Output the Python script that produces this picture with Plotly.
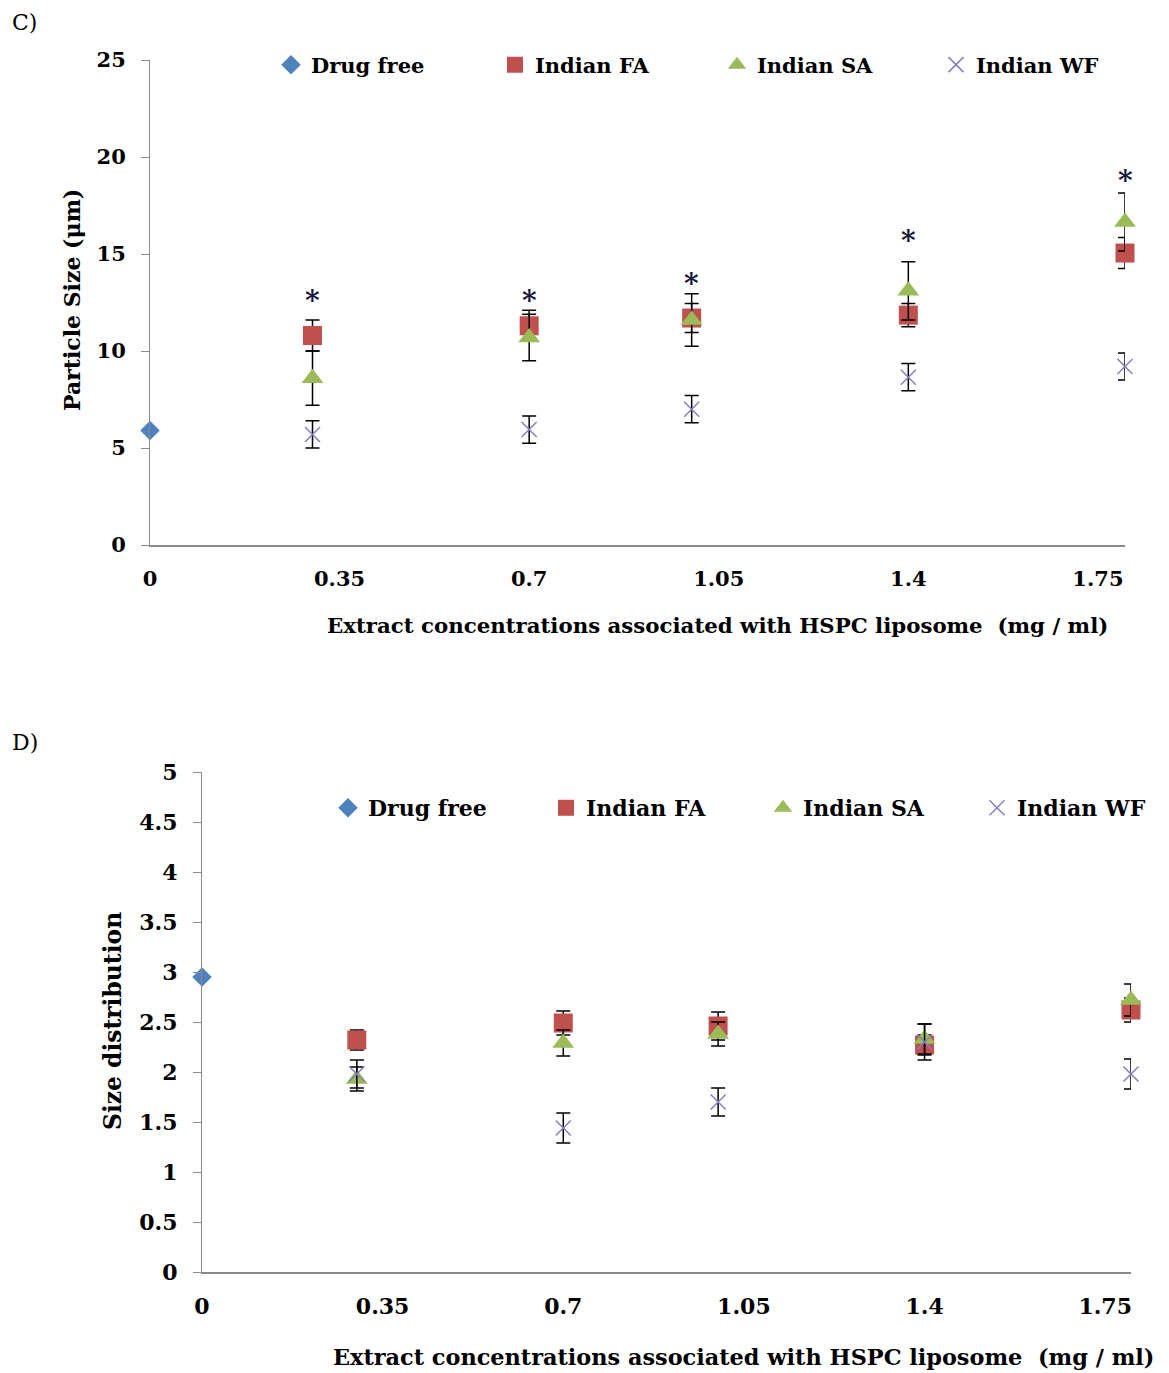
import plotly.graph_objects as go

# ---------------- data ----------------
series_names = ["Drug free", "Indian FA", "Indian SA", "Indian WF"]
x_control = [0]
x_conc = [0.3, 0.7, 1.0, 1.4, 1.8]
x_tick_vals = [0, 0.35, 0.7, 1.05, 1.4, 1.75]
x_tick_text = ["0", "0.35", "0.7", "1.05", "1.4", "1.75"]

# Panel C: particle size (um)
c_drug_free = [5.9]
c_fa = [10.8, 11.3, 11.7, 11.85, 15.05]
c_fa_err = [0.8, 0.8, 0.75, 0.6, 0.8]
c_sa = [8.6, 10.7, 11.6, 13.1, 16.65]
c_sa_err = [1.4, 1.2, 1.35, 1.5, 1.5]
c_wf = [5.7, 5.95, 7.0, 8.65, 9.2]
c_wf_err = [0.7, 0.7, 0.7, 0.7, 0.7]
c_star_y = [12.8, 12.8, 13.7, 15.9, 19.0]

# Panel D: size distribution
d_drug_free = [2.95]
d_fa = [2.32, 2.49, 2.46, 2.27, 2.62]
d_fa_err = [0.1, 0.12, 0.14, 0.1, 0.12]
d_sa = [1.93, 2.29, 2.38, 2.33, 2.72]
d_sa_err = [0.12, 0.13, 0.12, 0.15, 0.16]
d_wf = [1.98, 1.44, 1.70, 2.30, 1.98]
d_wf_err = [0.14, 0.15, 0.14, 0.18, 0.15]

# ---------------- style ----------------
W, H = 1169, 1373
BLUE = "#4F81BD"
RED = "#C0504D"
GREEN = "#9BBB59"
PURPLE = "#8a7cc0"
FONT = "DejaVu Serif"
AXIS_GREY = "#8a8a8a"


def px_x(p):
    return p / W


def px_y(p):
    return 1 - p / H


fig = go.Figure()


def add_panel(xa, ya, legends, df, fa, fa_err, sa, sa_err, wf, wf_err):
    err_style = dict(type="data", visible=True, color="black", thickness=1.5, width=7)
    fig.add_trace(go.Scatter(
        x=x_control, y=df, mode="markers", name=series_names[0],
        marker=dict(symbol="diamond", size=15, color=BLUE),
        xaxis=xa, yaxis=ya, legend=legends[0], cliponaxis=False))
    fig.add_trace(go.Scatter(
        x=x_conc, y=fa, mode="markers", name=series_names[1],
        marker=dict(symbol="square", size=19, color=RED),
        error_y=dict(array=fa_err, **err_style),
        xaxis=xa, yaxis=ya, legend=legends[1], cliponaxis=False))
    fig.add_trace(go.Scatter(
        x=x_conc, y=sa, mode="markers", name=series_names[2],
        marker=dict(symbol="triangle-up", size=19, color=GREEN),
        error_y=dict(array=sa_err, **err_style),
        xaxis=xa, yaxis=ya, legend=legends[2], cliponaxis=False))
    fig.add_trace(go.Scatter(
        x=x_conc, y=wf, mode="markers", name=series_names[3],
        marker=dict(symbol="x-thin", size=15, color=PURPLE,
                    line=dict(width=1.5, color=PURPLE)),
        error_y=dict(array=wf_err, **err_style),
        xaxis=xa, yaxis=ya, legend=legends[3], cliponaxis=False))


top_legends = ["legend", "legend2", "legend3", "legend4"]
bot_legends = ["legend5", "legend6", "legend7", "legend8"]
add_panel("x", "y", top_legends, c_drug_free, c_fa, c_fa_err, c_sa, c_sa_err, c_wf, c_wf_err)
add_panel("x2", "y2", bot_legends, d_drug_free, d_fa, d_fa_err, d_sa, d_sa_err, d_wf, d_wf_err)


def tick_font(size):
    return dict(family=FONT, size=size, color="black", weight="bold")


def xaxis_common(fs):
    return dict(
        range=[0, 1.8], tickmode="array", tickvals=x_tick_vals, ticktext=x_tick_text,
        showline=True, linecolor=AXIS_GREY, linewidth=1.5, ticks="", showgrid=False,
        zeroline=False, tickfont=tick_font(fs), ticklabelstandoff=14, automargin=False,
    )


def yaxis_common(fs):
    return dict(
        showline=True, linecolor=AXIS_GREY, linewidth=1, ticks="outside", ticklen=8,
        tickcolor=AXIS_GREY, showgrid=False, zeroline=False, tickfont=tick_font(fs),
        ticklabelstandoff=11, automargin=False,
    )


def legend_box(left_px, center_y_px, fs):
    return dict(x=px_x(left_px), y=px_y(center_y_px), xanchor="left", yanchor="middle",
                orientation="h",
                font=dict(family=FONT, size=fs, color="black", weight="bold"),
                bgcolor="rgba(0,0,0,0)", borderwidth=0, itemwidth=30)


annotations = []
# asterisks for panel C
for xv, yv in zip(x_conc, c_star_y):
    annotations.append(dict(
        x=xv, y=yv, xref="x", yref="y", text="*", showarrow=False,
        font=dict(family=FONT, size=28, color="#15153a", weight="bold"),
        xanchor="center", yanchor="middle", yshift=-4))

xtitle = "Extract concentrations associated with HSPC liposome  (mg / ml)"
annotations += [
    dict(x=px_x(717), y=px_y(625), xref="paper", yref="paper", showarrow=False,
         text=xtitle, font=dict(family=FONT, size=21.3, color="black", weight="bold"),
         xanchor="center", yanchor="middle"),
    dict(x=px_x(743), y=px_y(1357), xref="paper", yref="paper", showarrow=False,
         text=xtitle, font=dict(family=FONT, size=22.4, color="black", weight="bold"),
         xanchor="center", yanchor="middle"),
    dict(x=px_x(72), y=px_y(300), xref="paper", yref="paper", showarrow=False,
         text="Particle Size (μm)", textangle=-90,
         font=dict(family=FONT, size=22, color="black", weight="bold"),
         xanchor="center", yanchor="middle"),
    dict(x=px_x(113), y=px_y(1021), xref="paper", yref="paper", showarrow=False,
         text="Size distribution", textangle=-90,
         font=dict(family=FONT, size=23.4, color="black", weight="bold"),
         xanchor="center", yanchor="middle"),
    dict(x=px_x(10), y=px_y(23), xref="paper", yref="paper", showarrow=False,
         text="C)", font=dict(family=FONT, size=22, color="black"),
         xanchor="left", yanchor="middle"),
    dict(x=px_x(10), y=px_y(742), xref="paper", yref="paper", showarrow=False,
         text="D)", font=dict(family=FONT, size=22, color="black"),
         xanchor="left", yanchor="middle"),
]

fig.update_layout(
    width=W, height=H,
    margin=dict(l=0, r=0, t=0, b=0, pad=0, autoexpand=False),
    paper_bgcolor="white", plot_bgcolor="white",
    showlegend=True,
    xaxis=dict(domain=[px_x(150), px_x(1125)], anchor="y", **xaxis_common(21)),
    yaxis=dict(domain=[px_y(545), px_y(60)], anchor="x", range=[0, 25],
               tickvals=[0, 5, 10, 15, 20, 25], **yaxis_common(21)),
    xaxis2=dict(domain=[px_x(202), px_x(1131)], anchor="y2", **xaxis_common(22)),
    yaxis2=dict(domain=[px_y(1272), px_y(772)], anchor="x2", range=[0, 5],
                dtick=0.5, tick0=0, **yaxis_common(22)),
    legend=legend_box(271, 65, 21),
    legend2=legend_box(495, 65, 21),
    legend3=legend_box(717, 65, 21),
    legend4=legend_box(936, 65, 21),
    legend5=legend_box(328, 808, 22),
    legend6=legend_box(546, 808, 22),
    legend7=legend_box(763, 808, 22),
    legend8=legend_box(977, 808, 22),
    annotations=annotations,
)

fig.write_html(
    "out.html",
    config={"displayModeBar": False},
    post_script="document.body.style.margin='0';document.body.style.overflow='hidden';",
)
